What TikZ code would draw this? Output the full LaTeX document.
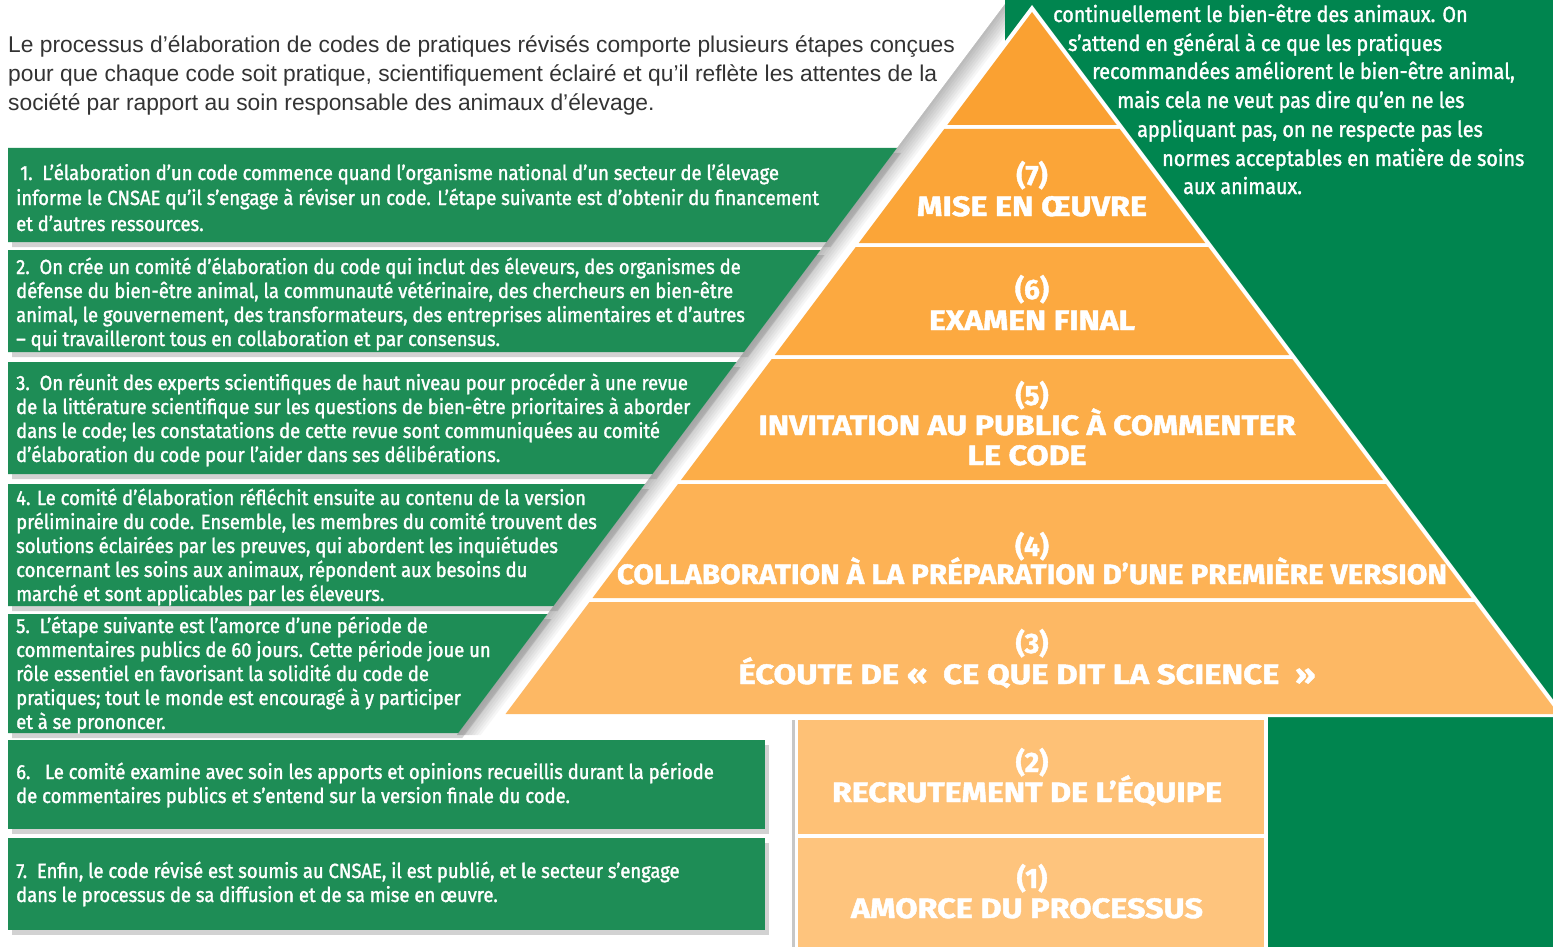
\documentclass[tikz,border=0pt]{standalone}
\usepackage{fontspec}
\usepackage{graphicx}
\setmainfont{Fira Sans}
\newfontfamily\boxfont[FakeStretch=0.9,FakeBold=1.5]{Fira Sans}
\newfontfamily\topfont[FakeStretch=0.9,FakeBold=1.5]{Fira Sans}
\newfontfamily\introfont{Liberation Sans}
\newfontfamily\labfont[FakeBold=1.5]{Fira Sans}
\usetikzlibrary{shadows}
\definecolor{boxgreen}{RGB}{30,141,86}
\definecolor{bggreen}{RGB}{0,133,79}
\definecolor{tA}{RGB}{250,161,50}
\definecolor{tB}{RGB}{251,165,56}
\definecolor{tC}{RGB}{252,169,64}
\definecolor{tD}{RGB}{252,173,72}
\definecolor{tE}{RGB}{253,178,85}
\definecolor{tF}{RGB}{253,184,100}
\definecolor{tG}{RGB}{254,193,118}
\definecolor{tH}{RGB}{254,196,125}
\definecolor{introgray}{RGB}{51,51,51}
\newcommand{\fitw}[2]{\resizebox{#1}{\height}{#2}}
\tikzset{
  bl/.style={anchor=base west, inner sep=0pt, font=\boxfont\fontsize{20.5}{24}\selectfont, text=white},
  il/.style={anchor=base west, inner sep=0pt, font=\introfont\fontsize{22.8}{29}\selectfont, text=introgray},
  tl/.style={anchor=base west, inner sep=0pt, font=\topfont\fontsize{22}{28}\selectfont, text=white},
  pl/.style={anchor=base, inner sep=0pt, font=\labfont\bfseries\fontsize{28}{30}\selectfont, text=white},
  gbox/.style={fill=boxgreen, drop shadow={shadow xshift=4pt, shadow yshift=-5pt, opacity=0.35}},
}
\begin{document}
\begin{tikzpicture}[x=1pt,y=-1pt]
\useasboundingbox (0,0) rectangle (1553,947);
\fill[white] (0,0) rectangle (1553,947);
% shadow band along the pyramid side
\foreach \i in {1,...,8}{
  \fill[black,opacity=0.035] (1008,0) -- ({1008+3*\i},0) -- ({456.75+3*\i},735) -- (456.75,735) -- cycle;
}
% green background on the right
\fill[bggreen] (1005,0) rectangle (1553,947);
% intro text
\node[il] (i1) at (8,53) {Le processus d’élaboration de codes de pratiques révisés comporte plusieurs étapes conçues};
\node[il] (i2) at (8,82) {pour que chaque code soit pratique, scientifiquement éclairé et qu’il reflète les attentes de la};
\node[il] (i3) at (8,111) {société par rapport au soin responsable des animaux d’élevage.};
% pyramid
\fill[white] (1032,5) -- (1566,717) -- (498,717) -- cycle;
\fill[tA] (1032,12) -- (1116.75,125) -- (947.25,125) -- cycle;
\fill[tB] (944.25,129) -- (1119.75,129) -- (1205.25,243) -- (858.75,243) -- cycle;
\fill[tC] (855.75,247) -- (1208.25,247) -- (1289.25,355) -- (774.75,355) -- cycle;
\fill[tD] (771.75,359) -- (1292.25,359) -- (1383,480) -- (681,480) -- cycle;
\fill[tE] (678,484) -- (1386,484) -- (1471.5,598) -- (592.5,598) -- cycle;
\fill[tF] (589.5,602) -- (1474.5,602) -- (1558.5,714) -- (505.5,714) -- cycle;
% base rectangles
\fill[white] (794,716) rectangle (1268,947);
\fill[black!22] (792,720) rectangle (795,947);
\fill[tG] (798,720) rectangle (1264,834);
\fill[tH] (798,838) rectangle (1264,947);
% pyramid labels
\node[pl] (n7) at (1032,185) {(7)};
\node[pl] (t7) at (1032,216) {\fitw{230pt}{MISE EN ŒUVRE}};
\node[pl] (n6) at (1032,299) {(6)};
\node[pl] (t6) at (1032,330) {\fitw{206pt}{EXAMEN FINAL}};
\node[pl] (n5) at (1032,405) {(5)};
\node[pl] (t5a) at (1027,435) {\fitw{537pt}{INVITATION AU PUBLIC À COMMENTER}};
\node[pl] (t5b) at (1027,465) {\fitw{119pt}{LE CODE}};
\node[pl] (n4) at (1032,556) {(4)};
\node[pl] (t4) at (1032,584) {\fitw{830pt}{COLLABORATION À LA PRÉPARATION D’UNE PREMIÈRE VERSION}};
\node[pl] (n3) at (1032,653) {(3)};
\node[pl] (t3) at (1027,684) {\fitw{577pt}{ÉCOUTE DE «\ \ CE QUE DIT LA SCIENCE\ \ »}};
\node[pl] (n2) at (1032,772) {(2)};
\node[pl] (t2) at (1027,802) {\fitw{390pt}{RECRUTEMENT DE L’ÉQUIPE}};
\node[pl] (n1) at (1032,888) {(1)};
\node[pl] (t1) at (1027,918) {\fitw{352pt}{AMORCE DU PROCESSUS}};
% top-right text
\node[tl] (r1) at (1053,22) {continuellement le bien-être des animaux. On};
\node[tl] (r2) at (1068,51) {s’attend en général à ce que les pratiques};
\node[tl] (r3) at (1092,79) {recommandées améliorent le bien-être animal,};
\node[tl] (r4) at (1117,108) {mais cela ne veut pas dire qu’en ne les};
\node[tl] (r5) at (1137,137) {appliquant pas, on ne respecte pas les};
\node[tl] (r6) at (1162,166) {normes acceptables en matière de soins};
\node[tl] (r7) at (1183,194) {aux animaux.};
% green step boxes
\fill[gbox] (8,148) -- (897,148) -- (826.5,242) -- (8,242) -- cycle;
\fill[gbox] (8,250) -- (820.5,250) -- (744,352) -- (8,352) -- cycle;
\fill[gbox] (8,362) -- (736.5,362) -- (652.5,474) -- (8,474) -- cycle;
\fill[gbox] (8,484) -- (645,484) -- (553.5,606) -- (8,606) -- cycle;
\fill[gbox] (8,614) -- (547.5,614) -- (458.25,733) -- (8,733) -- cycle;
\fill[gbox] (8,740) rectangle (765,829);
\fill[gbox] (8,838) rectangle (765,930);
% box texts
\node[bl] (a1) at (20,180) {1.\ \ L’élaboration d’un code commence quand l’organisme national d’un secteur de l’élevage};
\node[bl] (a2) at (16,205) {informe le CNSAE qu’il s’engage à réviser un code. L’étape suivante est d’obtenir du financement};
\node[bl] (a3) at (16,231) {et d’autres ressources.};
\node[bl] (b1) at (16,274) {2.\ \ On crée un comité d’élaboration du code qui inclut des éleveurs, des organismes de};
\node[bl] (b2) at (16,298) {défense du bien-être animal, la communauté vétérinaire, des chercheurs en bien-être};
\node[bl] (b3) at (16,322) {animal, le gouvernement, des transformateurs, des entreprises alimentaires et d’autres};
\node[bl] (b4) at (16,346) {– qui travailleront tous en collaboration et par consensus.};
\node[bl] (c1) at (16,390) {3.\ \ On réunit des experts scientifiques de haut niveau pour procéder à une revue};
\node[bl] (c2) at (16,414) {de la littérature scientifique sur les questions de bien-être prioritaires à aborder};
\node[bl] (c3) at (16,438) {dans le code; les constatations de cette revue sont communiquées au comité};
\node[bl] (c4) at (16,462) {d’élaboration du code pour l’aider dans ses délibérations.};
\node[bl] (d1) at (16,505) {4. Le comité d’élaboration réfléchit ensuite au contenu de la version};
\node[bl] (d2) at (16,529) {préliminaire du code. Ensemble, les membres du comité trouvent des};
\node[bl] (d3) at (16,553) {solutions éclairées par les preuves, qui abordent les inquiétudes};
\node[bl] (d4) at (16,577) {concernant les soins aux animaux, répondent aux besoins du};
\node[bl] (d5) at (16,601) {marché et sont applicables par les éleveurs.};
\node[bl] (e1) at (16,633) {5.\ \ L’étape suivante est l’amorce d’une période de};
\node[bl] (e2) at (16,657) {commentaires publics de 60 jours. Cette période joue un};
\node[bl] (e3) at (16,681) {rôle essentiel en favorisant la solidité du code de};
\node[bl] (e4) at (16,705) {pratiques; tout le monde est encouragé à y participer};
\node[bl] (e5) at (16,729) {et à se prononcer.};
\node[bl] (f1) at (16,779) {6.\ \ \ Le comité examine avec soin les apports et opinions recueillis durant la période};
\node[bl] (f2) at (16,803) {de commentaires publics et s’entend sur la version finale du code.};
\node[bl] (g1) at (16,878) {7.\ \ Enfin, le code révisé est soumis au CNSAE, il est publié, et le secteur s’engage};
\node[bl] (g2) at (16,902) {dans le processus de sa diffusion et de sa mise en œuvre.};
\end{tikzpicture}
\end{document}
